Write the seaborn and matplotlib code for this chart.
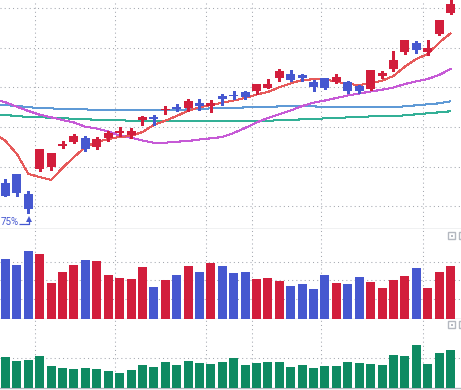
import matplotlib
matplotlib.use("Agg")
import matplotlib.pyplot as plt
from matplotlib.patches import Rectangle
import numpy as np
import pandas as pd
import seaborn as sns

# ---------------- data ----------------
opens  = [6.73, 7.60, 5.60, 8.10, 8.33, 10.40, 10.80, 11.20, 10.30, 11.20,
          11.70, 11.50, 13.00, 13.30, 14.00, 14.30, 14.20, 14.70, 14.40, 15.40,
          15.50, 15.80, 15.93, 16.20, 17.20, 17.60, 17.50, 16.80, 17.20, 16.80,
          16.80, 16.40, 16.10, 17.40, 18.10, 19.80, 20.70, 19.80, 21.60, 23.70]
closes = [5.40, 5.73, 4.13, 10.10, 9.70, 10.60, 11.40, 10.10, 11.10, 11.70,
          11.95, 11.90, 13.30, 13.10, 14.10, 14.10, 14.90, 14.40, 14.70, 15.10,
          15.40, 15.30, 16.60, 16.60, 17.90, 17.00, 17.20, 16.30, 16.20, 17.30,
          15.90, 15.90, 18.00, 17.70, 19.00, 21.00, 20.00, 20.20, 23.00, 24.60]
highs  = [7.07, 7.60, 5.90, 10.10, 9.70, 10.90, 11.60, 11.40, 11.30, 11.90,
          12.30, 12.20, 13.40, 13.50, 14.40, 14.60, 15.10, 15.10, 15.00, 15.60,
          15.90, 15.93, 16.60, 17.10, 18.10, 18.00, 17.60, 17.00, 17.20, 17.60,
          16.90, 16.50, 18.00, 17.90, 19.90, 21.00, 20.90, 21.00, 23.00, 25.20]
lows   = [5.40, 5.43, 3.73, 7.93, 8.00, 10.20, 10.70, 9.90, 10.10, 10.90,
          11.40, 11.20, 12.50, 12.50, 13.60, 13.90, 13.90, 14.00, 13.80, 14.50,
          15.10, 15.07, 15.60, 16.20, 16.90, 16.90, 16.90, 15.93, 16.10, 16.70,
          15.70, 15.70, 16.00, 17.20, 17.90, 19.60, 19.70, 19.50, 21.50, 23.60]

# moving averages, first value belongs to the bar just left of the window
ma_red     = [11.73, 10.90, 9.60, 7.60, 7.30, 7.00, 8.20, 9.30, 10.30, 10.80, 11.10,
              11.30, 11.40, 11.80, 12.50, 12.93, 13.40, 13.93, 14.27, 14.50, 14.73,
              14.95, 15.20, 15.55, 15.80, 16.27, 16.67, 17.00, 17.07, 17.07, 16.83,
              16.60, 16.50, 16.67, 16.93, 17.40, 18.33, 19.10, 19.60, 20.73, 21.67]
ma_magenta = [15.05, 14.77, 14.33, 13.90, 13.53, 13.27, 13.00, 12.75, 12.33, 12.15, 11.85,
              11.45, 11.23, 10.95, 10.73, 10.73, 10.83, 10.90, 11.05, 11.17, 11.30,
              11.70, 12.20, 12.75, 13.20, 13.57, 13.95, 14.40, 14.73, 14.95, 15.20,
              15.45, 15.65, 15.85, 16.03, 16.25, 16.60, 16.87, 17.10, 17.50, 18.10]
ma_blue    = [14.50, 14.50, 14.40, 14.30, 14.17, 14.17, 14.07, 14.07, 14.07, 13.97, 13.97,
              13.97, 13.97, 13.97, 13.97, 13.97, 13.97, 14.07, 14.07, 14.17, 14.17,
              14.17, 14.27, 14.27, 14.27, 14.37, 14.37, 14.37, 14.37, 14.27, 14.27,
              14.27, 14.27, 14.27, 14.27, 14.27, 14.37, 14.47, 14.57, 14.67, 14.87]
ma_teal    = [13.50, 13.50, 13.40, 13.30, 13.30, 13.20, 13.20, 13.10, 13.10, 13.00, 13.00,
              13.00, 12.90, 12.90, 12.90, 12.90, 12.90, 12.90, 12.90, 12.90, 12.90,
              12.90, 12.90, 12.90, 12.90, 13.00, 13.00, 13.07, 13.07, 13.17, 13.17,
              13.27, 13.27, 13.37, 13.37, 13.37, 13.47, 13.57, 13.67, 13.77, 13.87]

volume = [603, 543, 683, 653, 363, 473, 543, 593, 583, 443,
          413, 403, 523, 323, 393, 443, 533, 473, 563, 533,
          463, 473, 403, 413, 383, 333, 353, 303, 443, 363,
          353, 423, 373, 313, 393, 433, 513, 313, 473, 533]
indicator = [313, 273, 283, 323, 223, 203, 193, 203, 193, 173,
             153, 183, 233, 213, 263, 233, 273, 253, 243, 263,
             303, 233, 253, 263, 263, 213, 233, 203, 223, 223,
             263, 253, 243, 233, 333, 323, 433, 243, 353, 383]

price_grid = [4.37, 8.33, 12.29, 16.25, 20.21, 24.17]
vol_grid = [207, 397, 573]
ind_grid = [300]
month_starts = [3, 10, 18, 22, 28, 37]
low_label = "75%"

# ---------------- style ----------------
RED = "#d21e3c"
BLUE = "#4658d0"
GREEN = "#0e8a62"
GRID = "#a4a8b0"
SPINE = "#b4b8c0"

sns.set_theme(style="white")
plt.rcParams["font.family"] = ["Roboto", "DejaVu Sans"]

n = len(opens)
idx = np.arange(n)
up = [c >= o for o, c in zip(opens, closes)]
colors = [RED if u else BLUE for u in up]
df = pd.DataFrame({"i": idx, "open": opens, "close": closes, "high": highs,
                   "low": lows, "volume": volume, "ind": indicator,
                   "dir": ["up" if u else "down" for u in up]})
ma_x = np.arange(-1, n)
ma_df = pd.DataFrame({"i": ma_x, "red": ma_red, "mag": ma_magenta,
                      "blue": ma_blue, "teal": ma_teal})

W, H = 461, 390
fig = plt.figure(figsize=(W / 100, H / 100), dpi=100)
ax1 = fig.add_axes([0, (H - 229.3) / H, 1, 229.3 / H])
ax2 = fig.add_axes([0, (H - 319.3) / H, 1, 90 / H])
ax3 = fig.add_axes([0, (H - 388.3) / H, 1, 69 / H])

xl = (-0.482, 39.92)
dot = (0, (1.0, 3.0))

def style_axis(ax, hgrid):
    for s in ["top", "left", "right"]:
        ax.spines[s].set_visible(False)
    ax.spines["bottom"].set_color(SPINE)
    ax.spines["bottom"].set_linewidth(1.0)
    ax.set_xticks([])
    ax.set_yticks([])
    ax.set_xlabel("")
    ax.set_ylabel("")
    for g in hgrid:
        ax.axhline(g, color=GRID, lw=0.75, ls=dot, zorder=0)
    for m in month_starts:
        ax.axvline(m - 0.39, color=GRID, lw=0.75, ls=dot, zorder=0)
    ax.set_xlim(*xl)
    ax.set_facecolor("white")

# ---- main panel ----
line_specs = [("teal", "#33b096"), ("blue", "#5f9ad6"), ("mag", "#c65ad6"), ("red", "#e65a5a")]
for col, c in line_specs:
    sns.lineplot(data=ma_df, x="i", y=col, ax=ax1, color=c, lw=0.75,
                 zorder=2, antialiased=False, legend=False)

body_bottom = np.minimum(df["open"], df["close"])
body_h = np.maximum(np.abs(df["close"] - df["open"]), 0.12)
ax1.vlines(idx, df["low"], df["high"], colors=colors, lw=1.0, zorder=3, antialiased=False)
ax1.bar(idx, body_h, bottom=body_bottom, width=0.79, color=colors, zorder=4,
        linewidth=0, antialiased=False)
ax1.set_ylim(2.07, 25.0)
style_axis(ax1, price_grid)

# lowest-price marker
li = int(np.argmin(lows))
ly = lows[li]
ax1.plot([li - 0.8, li + 0.06, li + 0.06], [ly - 1.13, ly - 1.13, ly - 0.62],
         color=BLUE, lw=0.9, zorder=5, solid_capstyle="butt")
ax1.plot([li + 0.06], [ly - 0.62], marker="^", ms=4, color=BLUE, mew=0, zorder=5)
ax1.text(xl[0] + 0.02, ly - 0.95, low_label, color=BLUE, fontsize=7,
         ha="left", va="center", zorder=5)

# ---- volume panel ----
sns.barplot(data=df, x="i", y="volume", hue="dir", palette={"up": RED, "down": BLUE},
            native_scale=True, width=0.79, dodge=False, ax=ax2, legend=False,
            saturation=1, linewidth=0, zorder=3)
ax2.set_ylim(0, 900)
style_axis(ax2, vol_grid)

# ---- indicator panel ----
sns.barplot(data=df, x="i", y="ind", color=GREEN, native_scale=True, width=0.79,
            ax=ax3, saturation=1, linewidth=0, zorder=3)
ax3.set_ylim(0, 690)
style_axis(ax3, ind_grid)

# small panel buttons (top-right corners)
def px_rect(x0, y0, w, h, **kw):
    fig.add_artist(Rectangle((x0 / W, 1 - (y0 + h) / H), w / W, h / H,
                             transform=fig.transFigure, **kw))

for top in (232, 321):
    px_rect(448, top, 7, 7, fill=False, ec=SPINE, lw=1.0)
    px_rect(450.5, top + 3, 2.5, 2, fc=SPINE, ec="none")
    px_rect(459, top, 7, 7, fill=False, ec=SPINE, lw=1.0)

fig.savefig("out.png", dpi=100, facecolor="white")
